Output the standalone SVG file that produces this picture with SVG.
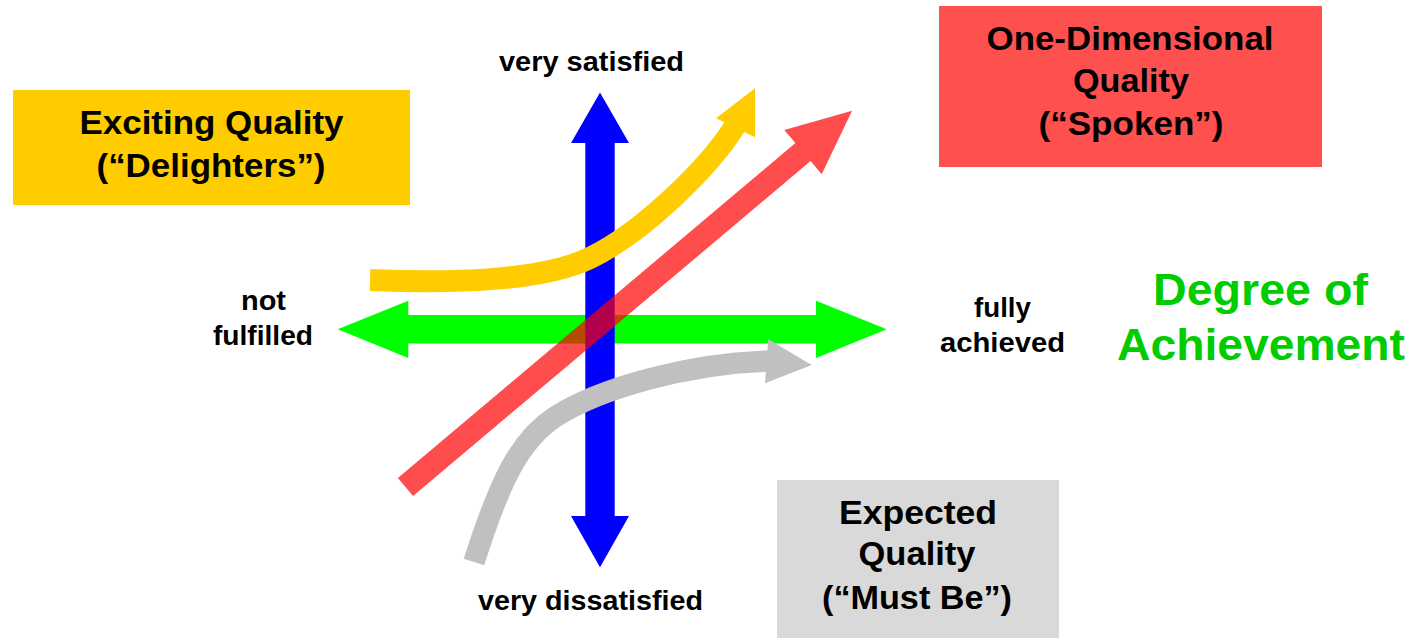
<svg xmlns="http://www.w3.org/2000/svg" width="1412" height="638" viewBox="0 0 1412 638">
<style>
text{font-family:"Liberation Sans",Arial,sans-serif;font-weight:bold;fill:#000;text-anchor:middle}
.bx{font-size:33px}
.lb{font-size:27.5px}
.big{font-size:44px;fill:#00CC00}
</style>
<rect width="1412" height="638" fill="#fff"/>
<g id="connectors">
  <polygon id="axis-x" fill="#00FF00" points="337.7,329.3 408.3,300.7 408.3,315 816,315 816,300.7 886.7,329.3 816,358 816,343.6 408.3,343.6 408.3,358"/>
  <polygon id="axis-y" fill="#0000FF" points="600,92.5 629,143 614.7,143 614.7,516 629,516 600,567.3 571,516 585.3,516 585.3,143 571,143"/>
  <g id="curve-exciting">
    <path d="M370,280 C450,283 540,282 590,258 C640,234 708,170 737,123" fill="none" stroke="#FFCC00" stroke-width="22"/>
    <polygon fill="#FFCC00" points="755,88.3 716,118.3 755,137.3"/>
  </g>
  <g id="curve-expected">
    <path d="M474,562 C500,480 520,440 555,417 C600,388 690,363 770,361" fill="none" stroke="#C0C0C0" stroke-width="21.5"/>
    <polygon fill="#C0C0C0" points="811.7,365 768.3,339.3 765,383.3"/>
  </g>
  <polygon id="curve-onedim" fill="#FF0000" fill-opacity="0.7" points="397.9,478 795.4,143.1 784.3,129.9 852.1,110.7 821.7,174.3 810.6,161.1 413.1,496"/>
</g>
<g id="exciting">
  <rect x="13" y="90" width="397" height="115" fill="#FFCC00"/>
  <text class="bx" x="211.5" y="134" textLength="264" lengthAdjust="spacingAndGlyphs">Exciting Quality</text>
  <text class="bx" x="211" y="176.5" textLength="229" lengthAdjust="spacingAndGlyphs">(“Delighters”)</text>
</g>
<g id="onedimensional">
  <rect x="939" y="6" width="383" height="161" fill="#FF5050"/>
  <text class="bx" x="1130" y="49.5" textLength="287" lengthAdjust="spacingAndGlyphs">One-Dimensional</text>
  <text class="bx" x="1131" y="91.5" textLength="116" lengthAdjust="spacingAndGlyphs">Quality</text>
  <text class="bx" x="1131" y="134.5" textLength="185" lengthAdjust="spacingAndGlyphs">(“Spoken”)</text>
</g>
<g id="expected">
  <rect x="777" y="480" width="282" height="158" fill="#D9D9D9"/>
  <text class="bx" x="918" y="524" textLength="158" lengthAdjust="spacingAndGlyphs">Expected</text>
  <text class="bx" x="917" y="565" textLength="117" lengthAdjust="spacingAndGlyphs">Quality</text>
  <text class="bx" x="917" y="608.5" textLength="190" lengthAdjust="spacingAndGlyphs">(“Must Be”)</text>
</g>
<g id="label-top"><text class="lb" x="591.5" y="70.5" textLength="185" lengthAdjust="spacingAndGlyphs">very satisfied</text></g>
<g id="label-bottom"><text class="lb" x="590.5" y="609.5" textLength="225" lengthAdjust="spacingAndGlyphs">very dissatisfied</text></g>
<g id="label-left">
  <text class="lb" x="263.5" y="309.5" textLength="45" lengthAdjust="spacingAndGlyphs">not</text>
  <text class="lb" x="263" y="344.5" textLength="100" lengthAdjust="spacingAndGlyphs">fulfilled</text>
</g>
<g id="label-right">
  <text class="lb" x="1002.5" y="316.5" textLength="57" lengthAdjust="spacingAndGlyphs">fully</text>
  <text class="lb" x="1002.5" y="351.5" textLength="125" lengthAdjust="spacingAndGlyphs">achieved</text>
</g>
<g id="axis-title">
  <text class="big" x="1260.5" y="305" textLength="215" lengthAdjust="spacingAndGlyphs">Degree of</text>
  <text class="big" x="1261" y="360" textLength="288" lengthAdjust="spacingAndGlyphs">Achievement</text>
</g>
</svg>
